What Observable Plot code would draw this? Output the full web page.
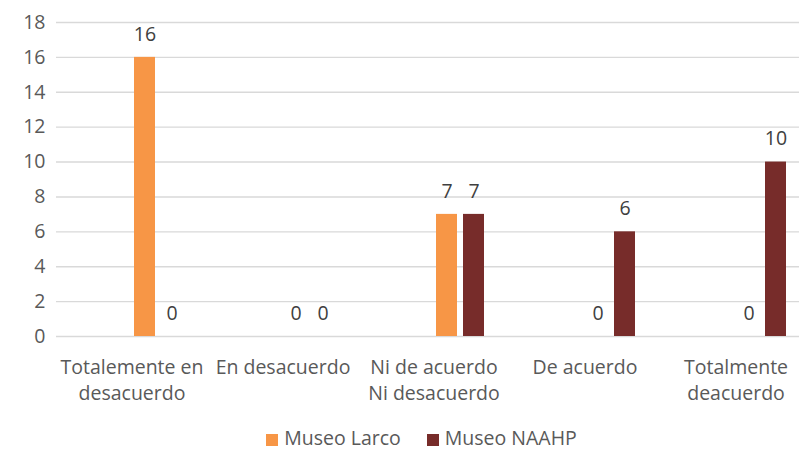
<!DOCTYPE html>
<html><head><meta charset="utf-8">
<script src="https://cdn.jsdelivr.net/npm/d3@7"></script>
<script src="https://cdn.jsdelivr.net/npm/@observablehq/plot@0.6"></script>
<style>
body{margin:0;background:#fff;font-family:"Open Sans",sans-serif;width:799px;height:451px;position:relative;overflow:hidden}
#legend{position:absolute;top:428px;left:0;width:799px;box-sizing:border-box;padding-left:44px;height:20px;line-height:20px;text-align:center;font-size:19.5px;color:#595959;white-space:nowrap}
#legend span.item{display:inline-block;margin:0 13px}
#legend span.sw{display:inline-block;width:12px;height:12px;margin-right:6px;vertical-align:-1px}
</style>
</head><body><div id="chart"></div><div id="legend"></div>
<script>
const categories = ["Totalemente en desacuerdo","En desacuerdo","Ni de acuerdo Ni desacuerdo","De acuerdo","Totalmente deacuerdo"];
const categoryLabels = ["Totalemente en\ndesacuerdo","En desacuerdo","Ni de acuerdo\nNi desacuerdo","De acuerdo","Totalmente\ndeacuerdo"];
const series = ["Museo Larco","Museo NAAHP"];
const larco = [16,0,7,0,0];
const naahp = [0,0,7,6,10];
const yTicks = [0,2,4,6,8,10,12,14,16,18];
const colors = ["#F79646","#772C2A"];
const slots = ["_1","_2", ...series];

const data = categories.flatMap((c,i)=>[
  {category:c, series:series[0], value:larco[i]},
  {category:c, series:series[1], value:naahp[i]}
]);

const fs = 19.5;
const plot = Plot.plot({
  width: 799, height: 420,
  marginLeft: 54, marginRight: -13, marginTop: 22, marginBottom: 84,
  style: {fontFamily: '"Open Sans", sans-serif', fontSize: fs + "px", color: "#595959", background: "#fff"},
  fx: {domain: categories, padding: 0, label: null},
  x: {domain: slots, paddingInner: 0.214, paddingOuter: 0.81, axis: null},
  y: {domain: [0,18], label: null},
  color: {domain: series, range: colors},
  marks: [
    Plot.ruleY(yTicks, {stroke: "#d9d9d9", strokeWidth: 1.4}),
    Plot.barY(data, {fx: "category", x: "series", y: "value", fill: "series"}),
    Plot.text(data, {fx: "category", x: "series", y: "value", text: d => String(d.value), dy: -23, fill: "#404040", fontSize: fs}),
    Plot.axisY(yTicks, {anchor: "left", tickSize: 0, tickPadding: 11, label: null, fontSize: fs, fill: "#595959"}),
    Plot.axisFx({anchor: "bottom", tickSize: 0, tickPadding: 19, label: null, fontSize: fs, lineHeight: 1.33, fill: "#595959",
      tickFormat: d => categoryLabels[categories.indexOf(d)]})
  ]
});
document.getElementById("chart").appendChild(plot);

const legend = document.getElementById("legend");
series.forEach((s,i)=>{
  const it = document.createElement("span"); it.className="item";
  const sw = document.createElement("span"); sw.className="sw"; sw.style.background = colors[i];
  it.appendChild(sw); it.appendChild(document.createTextNode(s));
  legend.appendChild(it);
});
</script>
</body></html>
